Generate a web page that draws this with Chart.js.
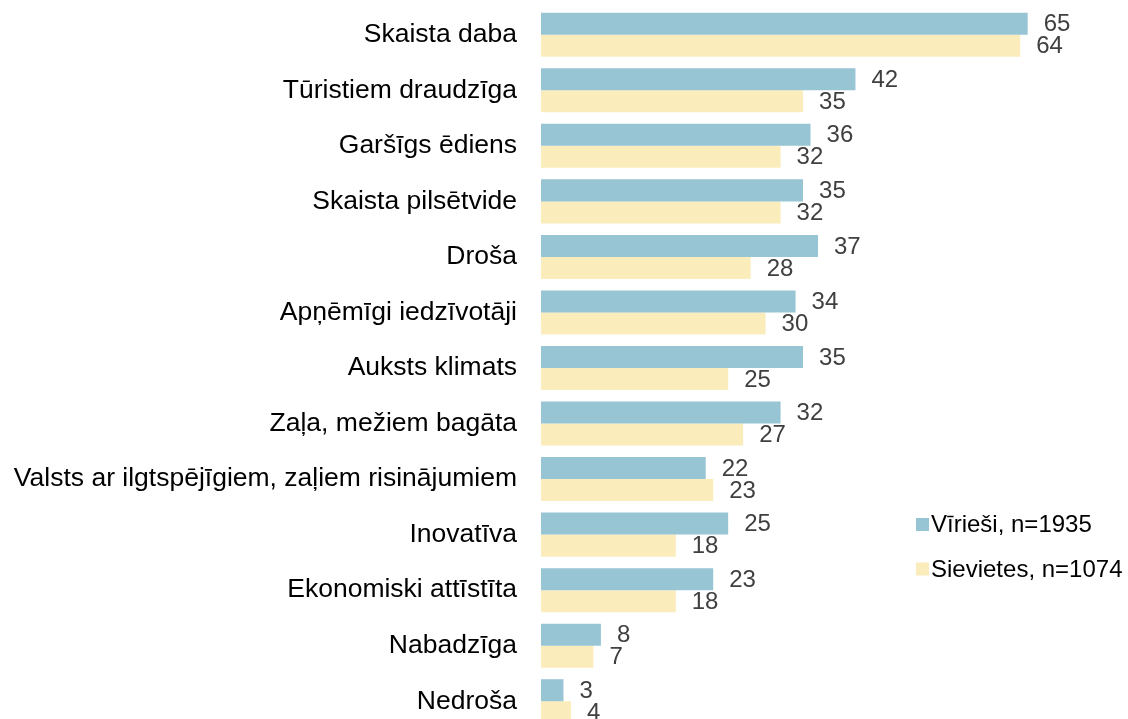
<!DOCTYPE html>
<html>
<head>
<meta charset="utf-8">
<script src="https://cdn.jsdelivr.net/npm/chart.js@4"></script>
<style>
  html, body { margin: 0; padding: 0; background: #ffffff; overflow: hidden; }
  #wrap { width: 1128px; height: 719px; overflow: hidden; }
  canvas { display: block; }
</style>
</head>
<body>
<div id="wrap"><canvas id="c" width="1128" height="729"></canvas></div>
<script>
const categories = [
  "Skaista daba",
  "Tūristiem draudzīga",
  "Garšīgs ēdiens",
  "Skaista pilsētvide",
  "Droša",
  "Apņēmīgi iedzīvotāji",
  "Auksts klimats",
  "Zaļa, mežiem bagāta",
  "Valsts ar ilgtspējīgiem, zaļiem risinājumiem",
  "Inovatīva",
  "Ekonomiski attīstīta",
  "Nabadzīga",
  "Nedroša"
];
const seriesNames = ["Vīrieši, n=1935", "Sievietes, n=1074"];
const men   = [65, 42, 36, 35, 37, 34, 35, 32, 22, 25, 23, 8, 3];
const women = [64, 35, 32, 32, 28, 30, 25, 27, 23, 18, 18, 7, 4];
const colors = ["#98c5d3", "#faedbb"];

const FONT = "'Liberation Sans', Arial, Helvetica, sans-serif";

const valueLabels = {
  id: 'valueLabels',
  afterDatasetsDraw(chart) {
    const ctx = chart.ctx;
    ctx.save();
    ctx.font = "24px " + FONT;
    ctx.fillStyle = "#404040";
    ctx.textAlign = "left";
    ctx.textBaseline = "middle";
    chart.data.datasets.forEach((ds, di) => {
      const meta = chart.getDatasetMeta(di);
      meta.data.forEach((bar, i) => {
        ctx.fillText(String(ds.data[i]), bar.x + 16, bar.y + 1);
      });
    });
    ctx.restore();
  }
};

const customLegend = {
  id: 'customLegend',
  afterDraw(chart) {
    const ctx = chart.ctx;
    ctx.save();
    ctx.font = "24px " + FONT;
    ctx.textAlign = "left";
    ctx.textBaseline = "alphabetic";
    chart.data.datasets.forEach((ds, i) => {
      const top = 518 + i * 44.5;
      ctx.fillStyle = ds.backgroundColor;
      ctx.fillRect(916, top, 13, 13);
      ctx.fillStyle = "#000000";
      ctx.fillText(ds.label, 931, top + 14);
    });
    ctx.restore();
  }
};

new Chart(document.getElementById('c'), {
  type: 'bar',
  data: {
    labels: categories,
    datasets: [
      { label: seriesNames[0], data: men, backgroundColor: colors[0] },
      { label: seriesNames[1], data: women, backgroundColor: colors[1] }
    ]
  },
  options: {
    indexAxis: 'y',
    responsive: false,
    devicePixelRatio: 1,
    animation: false,
    layout: { padding: { top: 7, bottom: 0, left: 0, right: 3 } },
    datasets: {
      bar: { categoryPercentage: 0.793, barPercentage: 1.0, borderWidth: 0 }
    },
    plugins: {
      legend: { display: false },
      tooltip: { enabled: false }
    },
    scales: {
      x: {
        display: false,
        min: 0,
        max: 78
      },
      y: {
        grid: { display: false, drawTicks: false },
        border: { display: false },
        ticks: {
          color: "#000000",
          padding: 24,
          font: { family: FONT, size: 26.5 }
        },
        afterFit(scale) {
          scale.width = 541;
          scale.paddingTop = 0;
          scale.paddingBottom = 0;
        }
      }
    }
  },
  plugins: [valueLabels, customLegend]
});
</script>
</body>
</html>
